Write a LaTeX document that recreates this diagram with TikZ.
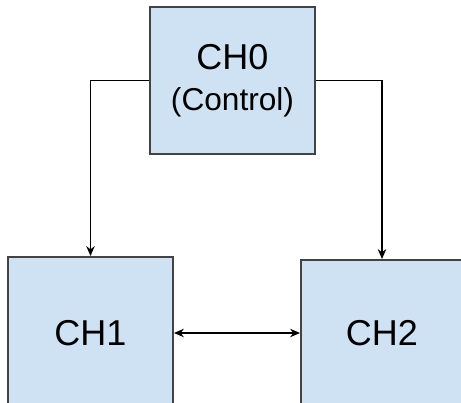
\documentclass[tikz,border=0pt]{standalone}
\usepackage{fontspec}
\usetikzlibrary{arrows.meta}
\setmainfont{Liberation Sans}
\definecolor{chfill}{HTML}{CFE2F3}
\definecolor{chline}{HTML}{434343}
\begin{document}
\begin{tikzpicture}[>={Stealth[length=7pt, width=6pt]}, x=0.025cm, y=-0.025cm,
  chbox/.style={draw=chline, fill=chfill, line width=1.4pt, rectangle, align=center,
    font=\fontsize{25.6}{29}\selectfont}]
\useasboundingbox (0,0) rectangle (461,402);
\node[chbox, minimum width=4.125cm, minimum height=3.675cm] (ch0) at (232.5,80.5) {CH0\\{\fontsize{22.5}{29}\selectfont (Control)}};
\node[chbox, minimum width=4.125cm, minimum height=3.8cm] (ch1) at (90.5,333) {CH1};
\node[chbox, minimum width=4.05cm, minimum height=3.65cm] (ch2) at (382,333) {CH2};

\draw[->, line width=1.1pt] (ch0.west) -| (ch1.north);
\draw[->, line width=1.1pt] (ch0.east) -| (ch2.north);
\draw[<->, line width=1.1pt] (ch1) -- (ch2);
\end{tikzpicture}
\end{document}
